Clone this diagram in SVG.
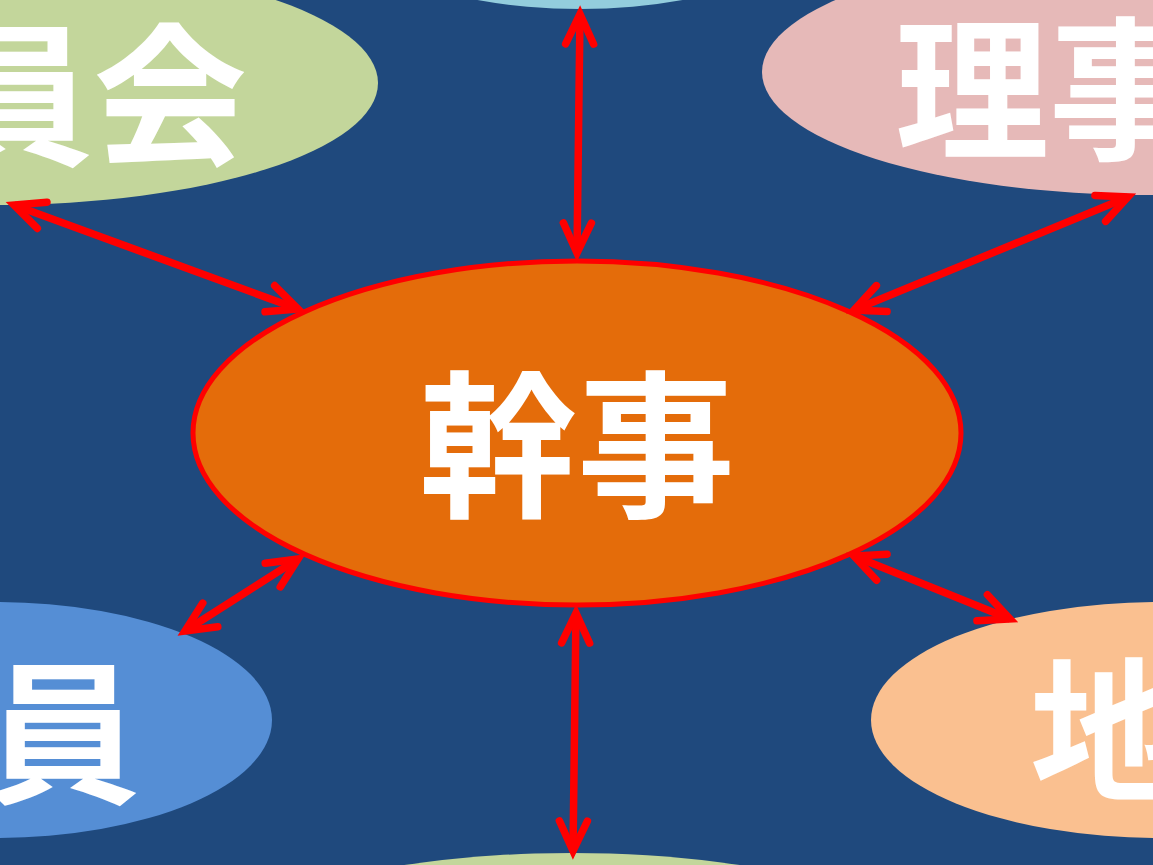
<svg xmlns="http://www.w3.org/2000/svg" width="1153" height="865" viewBox="0 0 1153 865">
<defs>
<style>
.lbl{font-family:"Noto Sans CJK JP","Noto Sans CJK SC",sans-serif;font-weight:700;font-size:154px;fill:#ffffff}
.big{font-size:158px}
.con{stroke:#ff0000;stroke-width:7.5;fill:none;marker-start:url(#ah);marker-end:url(#ah)}
</style>
<marker id="ah" markerUnits="userSpaceOnUse" markerWidth="80" markerHeight="80" viewBox="-40 -40 80 80" refX="0" refY="0" orient="auto-start-reverse" overflow="visible">
<path d="M-30,-14 L0,0 L-30,14" fill="none" stroke="#ff0000" stroke-width="7.5" stroke-linecap="round" stroke-linejoin="miter"/>
</marker>
</defs>
<rect x="0" y="0" width="1153" height="865" fill="#1F497D"/>
<g id="node-top-left">
<ellipse cx="-5" cy="83" rx="383" ry="122" fill="#C3D69B"/>
<text class="lbl" x="247" y="154" text-anchor="end">員会</text>
</g>
<g id="node-top">
<ellipse cx="580" cy="-111" rx="270" ry="120" fill="#93CDDD"/>
</g>
<g id="node-top-right">
<ellipse cx="1150" cy="72" rx="388" ry="123" fill="#E6B9B8"/>
<text class="lbl" x="895" y="148">理事</text>
</g>
<g id="node-bottom-left">
<ellipse cx="-5" cy="720" rx="277" ry="118" fill="#558ED5"/>
<text class="lbl" x="140" y="792" text-anchor="end">員</text>
</g>
<g id="node-bottom-right">
<ellipse cx="1161" cy="720" rx="290" ry="118" fill="#FAC090"/>
<text class="lbl" x="1030" y="789">地</text>
</g>
<g id="node-bottom">
<ellipse cx="572" cy="973" rx="385" ry="120" fill="#C3D69B"/>
</g>
<g id="node-center">
<ellipse cx="577" cy="433" rx="384" ry="172" fill="#E46C0A" stroke="#ff0000" stroke-width="5"/>
<text class="lbl big" x="577" y="505" text-anchor="middle">幹事</text>
</g>
<g id="connectors">
<line class="con" x1="580" y1="14" x2="577" y2="253"/>
<line class="con" x1="14" y1="205" x2="298" y2="309"/>
<line class="con" x1="1128" y1="197" x2="854" y2="310"/>
<line class="con" x1="185" y1="631" x2="298" y2="559"/>
<line class="con" x1="854" y1="556" x2="1010" y2="619"/>
<line class="con" x1="576" y1="613" x2="573" y2="851"/>
</g>
</svg>
